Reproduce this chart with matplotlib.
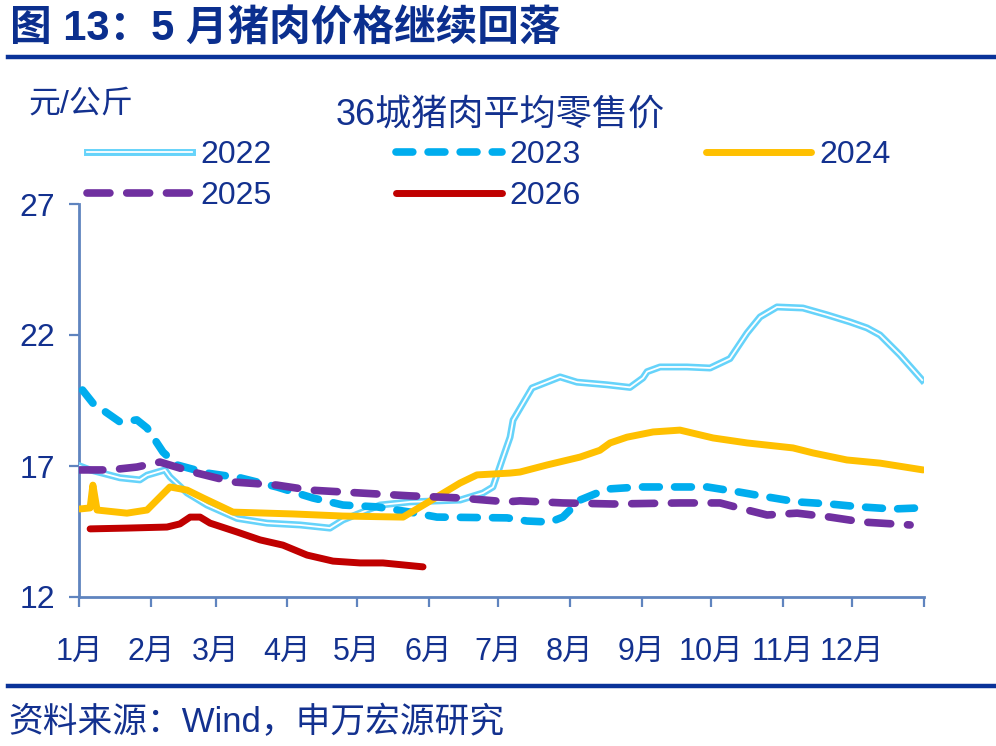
import matplotlib
matplotlib.use("Agg")
import matplotlib.pyplot as plt
import matplotlib.patheffects as pe

plt.rcParams["font.family"] = ["Liberation Sans", "Noto Sans CJK SC", "DejaVu Sans"]

# ---------------- data (day of year, price yuan/kg) ----------------
d2022 = [0.4, 4.8, 17.7, 26.3, 29.4, 37.1, 39.3, 46.7, 55.3, 68.3, 81.2, 95.5, 108.4, 114, 130,
         143, 164.6, 174.5, 178.8, 183.2, 186.2, 187.5, 190.5, 195.7, 207.8, 215.1, 228, 238,
         243.6, 245.4, 251, 262.6, 272.6, 281.2, 288.6, 294.2, 301.5, 312.7, 323.1, 333, 340.4,
         346, 354.6, 364.2]
p2022 = [17.0, 16.85, 16.55, 16.47, 16.65, 16.85, 16.58, 15.97, 15.51, 15.0, 14.82, 14.75, 14.63,
         14.94, 15.51, 15.63, 15.7, 15.97, 16.2, 17.34, 18.1, 18.75, 19.2, 19.98, 20.4, 20.2,
         20.1, 20.0, 20.36, 20.6, 20.78, 20.78, 20.74, 21.1, 22.08, 22.69, 23.07, 23.03, 22.77,
         22.5, 22.27, 22.0, 21.24, 20.28]

d2023 = [1.5, 6, 17.7, 25, 29.4, 36.3, 42.3, 55.3, 69.5, 85.5, 101, 114, 128.7, 143, 154.6,
         184.9, 193.5, 203.5, 209, 216.4, 228, 242.3, 255.3, 271.3, 285.5, 297.2, 310.2, 324.4,
         337.4, 351.6, 363.3]
p2023 = [19.9, 19.4, 18.68, 18.76, 18.45, 17.53, 17.04, 16.73, 16.55, 16.2, 15.78, 15.51, 15.44,
         15.24, 15.05, 15.02, 14.9, 14.86, 15.05, 15.7, 16.12, 16.2, 16.2, 16.2, 16.0, 15.82,
         15.63, 15.55, 15.44, 15.36, 15.4]

d2024 = [0.4, 4.8, 6, 7.8, 20.7, 29.4, 39.3, 46.7, 53.6, 66.5, 92.4, 114, 140, 150.3, 164.6,
         171.9, 186.2, 190.5, 202.2, 216.4, 225, 229.4, 236.7, 248, 259.6, 273.9, 288.6, 308.4,
         317, 331.7, 346, 364.6]
p2024 = [15.36, 15.4, 16.27, 15.32, 15.2, 15.32, 16.2, 16.08, 15.78, 15.24, 15.17, 15.09, 15.05,
         15.59, 16.35, 16.66, 16.73, 16.77, 17.04, 17.34, 17.6, 17.88, 18.1, 18.3, 18.37, 18.07,
         17.88, 17.69, 17.5, 17.23, 17.11, 16.85]

d2025 = [0.4, 13.4, 25, 35, 49.2, 66.5, 85.5, 99.8, 121.4, 143, 164.6, 184.9, 190.5, 209,
         230.7, 259.6, 276.9, 288.6, 297.2, 310.2, 324.4, 338.7, 359]
p2025 = [16.85, 16.85, 16.96, 17.15, 16.77, 16.39, 16.27, 16.08, 15.97, 15.86, 15.78, 15.63,
         15.67, 15.59, 15.55, 15.59, 15.59, 15.32, 15.13, 15.2, 15.05, 14.86, 14.75]

d2026 = [4.8, 20.7, 38, 43.6, 48, 52.3, 56.6, 68.3, 78.2, 88.1, 98.5, 109.7, 121.4, 131.3, 148.6]
p2026 = [14.6, 14.63, 14.67, 14.79, 15.05, 15.05, 14.82, 14.48, 14.18, 13.98, 13.6, 13.37, 13.3,
         13.3, 13.15]

month_starts = [0, 31, 59, 90, 120, 151, 181, 212, 243, 273, 304, 334, 365]
month_labels = ["1月", "2月", "3月", "4月", "5月", "6月", "7月", "8月", "9月", "10月", "11月", "12月"]
yticks = [12, 17, 22, 27]

# ---------------- style ----------------
navy = "#0B2F8E"
txt = "#13318F"
axis_c = "#5F84BF"

fig = plt.figure(figsize=(9.96, 7.46), dpi=100)
ax = fig.add_axes([79 / 996, 1 - 597 / 746, 845 / 996, 393 / 746])

l22, = ax.plot(d2022, p2022, color="white", lw=1.3, solid_joinstyle="round",
               path_effects=[pe.Stroke(linewidth=5.0, foreground="#66D3FA"), pe.Normal()],
               label="2022", zorder=3)
l23, = ax.plot(d2023, p2023, color="#00ADEE", lw=5.5, dashes=(2.2, 2.0),
               dash_capstyle="round", label="2023", zorder=4)
l24, = ax.plot(d2024, p2024, color="#FFC000", lw=5.0, solid_capstyle="round",
               label="2024", zorder=5)
l25, = ax.plot(d2025, p2025, color="#7030A0", lw=5.5, dashes=(3.0, 2.2),
               dash_capstyle="round", label="2025", zorder=6)
l26, = ax.plot(d2026, p2026, color="#C00000", lw=5.0, solid_capstyle="round",
               label="2026", zorder=7)

ax.set_xlim(0, 365)
ax.set_ylim(12, 27)
ax.set_yticks(yticks)
ax.set_yticklabels([str(v) for v in yticks])
ax.set_xticks(month_starts)
ax.set_xticklabels(month_labels + [""])
for s in ["top", "right"]:
    ax.spines[s].set_visible(False)
for s in ["left", "bottom"]:
    ax.spines[s].set_color(axis_c)
    ax.spines[s].set_linewidth(2.0)
ax.tick_params(axis="both", colors=axis_c, width=1.6, length=7, direction="out")
ax.tick_params(axis="y", labelsize=23, labelcolor=txt, pad=10)
ax.tick_params(axis="x", labelsize=22, labelcolor=txt, pad=22)

leg = ax.legend([l22, l25, l23, l26, l24], ["2022", "2025", "2023", "2026", "2024"],
                ncol=3, loc="upper left", bbox_to_anchor=(87 / 996, 1 - 140 / 746),
                bbox_transform=fig.transFigure, frameon=False, fontsize=23,
                handlelength=3.3, handletextpad=0.25, columnspacing=3.9,
                labelspacing=0.35, borderpad=0, borderaxespad=0)
for t in leg.get_texts():
    t.set_color(txt)

# titles and texts
fig.text(10 / 996, 1 - 30 / 746, "图 13：5 月猪肉价格继续回落", fontsize=30, fontweight="bold",
         color=navy, va="center", ha="left")
fig.add_artist(plt.Line2D([8 / 996, 1], [1 - 57 / 746] * 2, color="#0A3399", lw=3.2))
fig.text(500 / 996, 1 - 115 / 746, "36城猪肉平均零售价", fontsize=26, color=txt,
         va="center", ha="center")
fig.text(28 / 996, 1 - 105 / 746, "元/公斤", fontsize=23, color=txt, va="center", ha="left")
fig.add_artist(plt.Line2D([8 / 996, 1], [1 - 686 / 746] * 2, color="#0A3399", lw=3.2))
fig.text(8 / 996, 1 - 722 / 746, "资料来源：Wind，申万宏源研究", fontsize=25, color=txt,
         va="center", ha="left")

fig.savefig("out.png", dpi=100)
